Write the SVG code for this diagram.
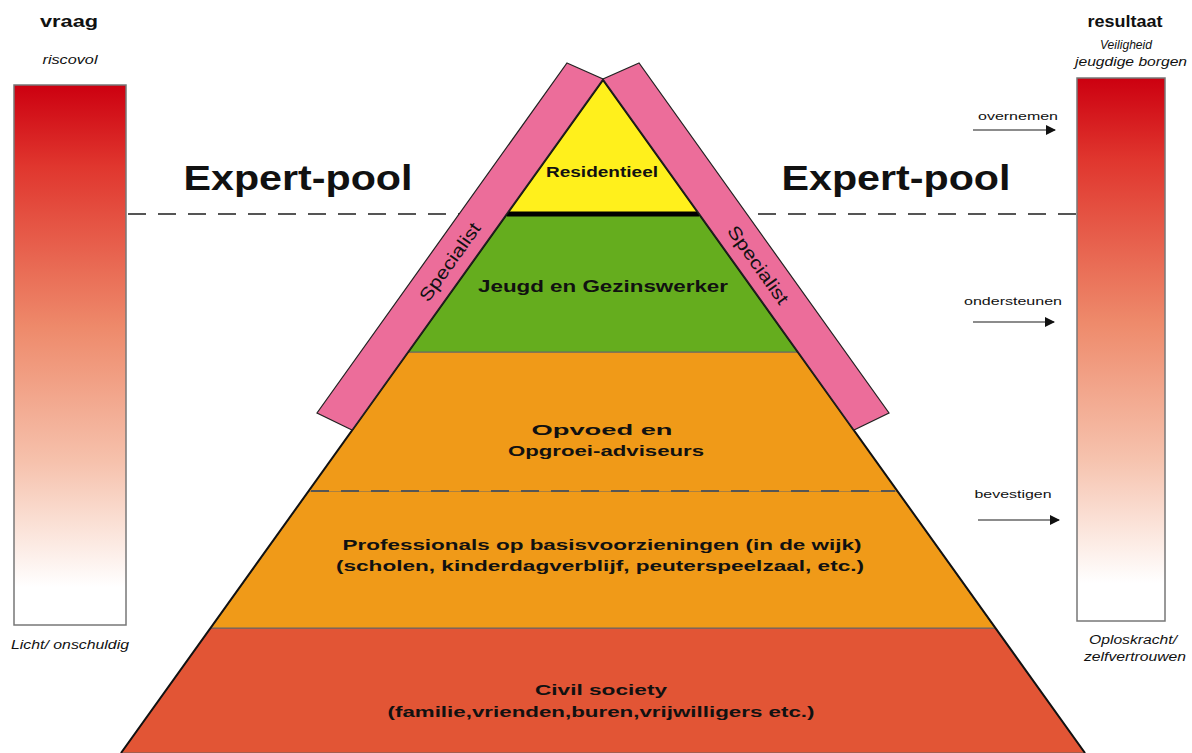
<svg xmlns="http://www.w3.org/2000/svg" width="1192" height="753" viewBox="0 0 1192 753">
<defs>
<linearGradient id="heat" x1="0" y1="0" x2="0" y2="1">
<stop offset="0" stop-color="#cc0010"/>
<stop offset="0.15" stop-color="#e0362e"/>
<stop offset="0.45" stop-color="#ee8a6b"/>
<stop offset="0.7" stop-color="#f6c2ad"/>
<stop offset="0.93" stop-color="#ffffff"/>
</linearGradient>
<marker id="arrow" viewBox="0 0 10 10" refX="9" refY="5" markerWidth="10" markerHeight="10" markerUnits="userSpaceOnUse" orient="auto">
<path d="M0,0 L10,5 L0,10 Z" fill="#111"/>
</marker>
<style>
.t{font-family:"Liberation Sans",Arial,sans-serif;fill:#111;text-anchor:middle}
.b{font-weight:bold}
.i{font-style:italic}
.band{stroke:#666;stroke-width:1}
.edge{fill:none;stroke:#111;stroke-width:2}
.bar{fill:#ec6d9a;stroke:#222;stroke-width:1.2}
.dash{stroke:#555;stroke-width:2.2;stroke-dasharray:18 12;fill:none}
.arr{stroke:#666;stroke-width:1.6;fill:none}
.scale{stroke:#777;stroke-width:1.5;fill:url(#heat)}
</style>
</defs>
<rect width="1192" height="753" fill="#ffffff"/>

<g id="expert-line">
<line class="dash" x1="128" y1="214" x2="1076" y2="214"/>
</g>

<g id="vraag-scale">
<text class="t b" x="69" y="27" font-size="16" textLength="58" lengthAdjust="spacingAndGlyphs">vraag</text>
<text class="t i" x="70" y="64" font-size="12" textLength="55" lengthAdjust="spacingAndGlyphs">riscovol</text>
<rect class="scale" x="14" y="85" width="112" height="540"/>
<text class="t i" x="70" y="649" font-size="12" textLength="118" lengthAdjust="spacingAndGlyphs">Licht/ onschuldig</text>
</g>

<g id="resultaat-scale">
<text class="t b" x="1125" y="27" font-size="16" textLength="75" lengthAdjust="spacingAndGlyphs">resultaat</text>
<text class="t i" x="1126" y="49" font-size="12" textLength="52" lengthAdjust="spacingAndGlyphs">Veiligheid</text>
<text class="t i" x="1131" y="66" font-size="12" textLength="112" lengthAdjust="spacingAndGlyphs">jeugdige borgen</text>
<rect class="scale" x="1077" y="78" width="88" height="543"/>
<text class="t i" x="1133" y="644" font-size="12" textLength="88" lengthAdjust="spacingAndGlyphs">Oploskracht/</text>
<text class="t i" x="1135" y="661" font-size="12" textLength="102" lengthAdjust="spacingAndGlyphs">zelfvertrouwen</text>
</g>

<g id="expert-pool-left">
<text class="t b" x="298" y="190" font-size="35" textLength="229" lengthAdjust="spacingAndGlyphs">Expert-pool</text>
</g>
<g id="expert-pool-right">
<text class="t b" x="896" y="190" font-size="35" textLength="229" lengthAdjust="spacingAndGlyphs">Expert-pool</text>
</g>

<g id="civil-society">
<polygon class="band" fill="#e25535" points="211,628 995,628 1085,753 121,753"/>
<text class="t b" x="601" y="695" font-size="15" textLength="132" lengthAdjust="spacingAndGlyphs">Civil society</text>
<text class="t b" x="601" y="717" font-size="15" textLength="427" lengthAdjust="spacingAndGlyphs">(familie,vrienden,buren,vrijwilligers etc.)</text>
</g>

<g id="professionals">
<polygon class="band" fill="#f09a18" points="309,491 897,491 995,628 211,628"/>
<text class="t b" x="602" y="550" font-size="15" textLength="519" lengthAdjust="spacingAndGlyphs">Professionals op basisvoorzieningen (in de wijk)</text>
<text class="t b" x="600" y="571" font-size="15" textLength="528" lengthAdjust="spacingAndGlyphs">(scholen, kinderdagverblijf, peuterspeelzaal, etc.)</text>
</g>

<g id="opvoed">
<polygon fill="#f09a18" stroke="none" points="408,352 798,352 897,491 309,491"/>
<line class="band" x1="408" y1="352" x2="798" y2="352"/>
<text class="t b" x="602" y="435" font-size="15" textLength="141" lengthAdjust="spacingAndGlyphs">Opvoed en</text>
<text class="t b" x="606" y="456" font-size="15" textLength="196" lengthAdjust="spacingAndGlyphs">Opgroei-adviseurs</text>
</g>

<g id="jeugd-gezinswerker">
<polygon fill="#65ad1e" stroke="#666" stroke-width="1" points="507,214 699,214 798,352 408,352"/>
<text class="t b" x="603" y="292" font-size="16" textLength="250" lengthAdjust="spacingAndGlyphs">Jeugd en Gezinswerker</text>
</g>

<g id="residentieel">
<polygon fill="#fff01c" stroke="none" points="603,80 699,214 507,214"/>
<line x1="507" y1="214" x2="699" y2="214" stroke="#000" stroke-width="5"/>
<text class="t b" x="602" y="177" font-size="14" textLength="112" lengthAdjust="spacingAndGlyphs">Residentieel</text>
</g>

<g id="connectors">
<line class="dash" x1="311" y1="491" x2="895" y2="491" stroke="#7a7a7a" stroke-width="2" stroke-dasharray="15 11"/>
<polyline class="edge" points="121,753 603,80 1085,753"/>
<line class="arr" x1="973" y1="130" x2="1055" y2="130" marker-end="url(#arrow)"/>
<line class="arr" x1="973" y1="322" x2="1054" y2="322" marker-end="url(#arrow)"/>
<line class="arr" x1="978" y1="520" x2="1059" y2="520" marker-end="url(#arrow)"/>
</g>

<g id="specialist-left">
<polygon class="bar" points="567,63 603,79 352,430 317,413"/>
<text class="t" x="450" y="268" font-size="18" textLength="92" lengthAdjust="spacingAndGlyphs" transform="rotate(-54.5 450 262)">Specialist</text>
</g>
<g id="specialist-right">
<polygon class="bar" points="639,63 603,79 854,430 889,413"/>
<text class="t" x="758" y="271" font-size="18" textLength="92" lengthAdjust="spacingAndGlyphs" transform="rotate(54.5 758 265)">Specialist</text>
</g>

<g id="arrow-labels">
<text class="t" x="1018" y="120" font-size="11" textLength="80" lengthAdjust="spacingAndGlyphs">overnemen</text>
<text class="t" x="1013" y="305" font-size="11" textLength="98" lengthAdjust="spacingAndGlyphs">ondersteunen</text>
<text class="t" x="1013" y="498" font-size="11" textLength="77" lengthAdjust="spacingAndGlyphs">bevestigen</text>
</g>
</svg>
